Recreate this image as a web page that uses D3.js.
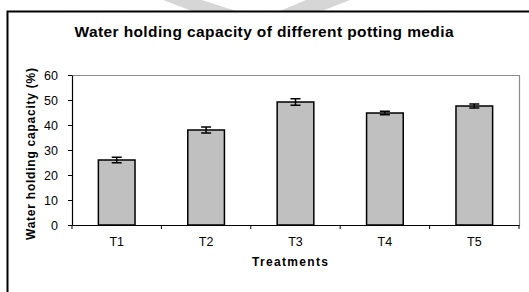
<!DOCTYPE html>
<html><head><meta charset="utf-8">
<script src="https://cdn.jsdelivr.net/npm/d3@7"></script>
<style>html,body{margin:0;padding:0;background:#fff;}svg{display:block;}</style>
</head><body>
<script>
const categories = ["T1", "T2", "T3", "T4", "T5"];
const values = [26.0, 38.0, 49.2, 44.8, 47.6];
const errors = [1.1, 1.2, 1.3, 0.7, 0.8];
const yTicks = [0, 10, 20, 30, 40, 50, 60];
const title = "Water holding capacity of different potting media";
const xTitle = "Treatments";
const yTitle = "Water holding capacity (%)";

const W = 529, H = 292;
const m = {left: 72, right: 10, top: 75, bottom: 67};
const svg = d3.select("body").append("svg").attr("width", W).attr("height", H);

// watermark fragments at top
svg.append("path").attr("d", "M163,0 L202,0 L236,11 L192,11 Z").attr("fill", "#d6d6d6");
svg.append("path").attr("d", "M306,0 L350,0 L322,11 L280,11 Z").attr("fill", "#d6d6d6");

// outer frame
svg.append("rect").attr("x", 7.5).attr("y", 11.5).attr("width", 540).attr("height", 300)
  .attr("fill", "none").attr("stroke", "#000").attr("stroke-width", 2);

const x = d3.scaleBand().domain(categories).range([m.left, W - m.right]).paddingInner(0.59).paddingOuter(0.295);
const xCat = d3.scaleBand().domain(categories).range([m.left, W - m.right]).padding(0);
const y = d3.scaleLinear().domain([0, 60]).range([H - m.bottom, m.top]);

const font = "'Liberation Sans', Arial, sans-serif";

// plot border (top & right, gray)
svg.append("path")
  .attr("d", `M${m.left},${y(60)+0.5} H${W - m.right + 0.5} V${y(0)}`)
  .attr("fill", "none").attr("stroke", "#8c8c8c").attr("stroke-width", 1.2);

// bars
svg.append("g").selectAll("rect").data(categories).join("rect")
  .attr("x", d => x(d)).attr("width", x.bandwidth())
  .attr("y", (d, i) => y(values[i])).attr("height", (d, i) => y(0) - y(values[i]))
  .attr("fill", "#c0c0c0").attr("stroke", "#000").attr("stroke-width", 1.5);

// error bars
const eg = svg.append("g").attr("stroke", "#000").attr("stroke-width", 1.5);
categories.forEach((c, i) => {
  const cx = x(c) + x.bandwidth() / 2;
  const y1 = y(values[i] + errors[i]), y2 = y(values[i] - errors[i]);
  eg.append("line").attr("x1", cx).attr("x2", cx).attr("y1", y1).attr("y2", y2);
  eg.append("line").attr("x1", cx - 5).attr("x2", cx + 5).attr("y1", y1).attr("y2", y1);
  eg.append("line").attr("x1", cx - 5).attr("x2", cx + 5).attr("y1", y2).attr("y2", y2);
});

// y axis
const yAxis = svg.append("g").attr("transform", `translate(${m.left},0)`)
  .call(d3.axisLeft(y).tickValues(yTicks).tickSize(4).tickPadding(10).tickSizeOuter(0));
yAxis.select(".domain").attr("stroke", "#000").attr("stroke-width", 1.2);
yAxis.selectAll(".tick line").attr("stroke", "#000");
yAxis.selectAll("text").attr("font-family", font).attr("font-size", 12.5).attr("fill", "#000");

// x axis
const xAxis = svg.append("g").attr("transform", `translate(0,${y(0)})`)
  .call(d3.axisBottom(xCat).tickSize(0).tickPadding(12));
xAxis.select(".domain").attr("stroke", "#000").attr("stroke-width", 1.2);
xAxis.selectAll("text").attr("font-family", font).attr("font-size", 12.5).attr("fill", "#000");
// boundary ticks
const bounds = categories.map(c => xCat(c)).concat([xCat(categories[categories.length-1]) + xCat.bandwidth()]);
svg.append("g").selectAll("line").data(bounds).join("line")
  .attr("x1", d => d).attr("x2", d => d).attr("y1", y(0)).attr("y2", y(0) + 4)
  .attr("stroke", "#000").attr("stroke-width", 1);

// titles
svg.append("text").attr("x", 264).attr("y", 37).attr("text-anchor", "middle")
  .attr("font-family", font).attr("font-weight", "bold").attr("font-size", 15.5)
  .attr("textLength", 379).attr("lengthAdjust", "spacing").text(title);
svg.append("text").attr("x", 290).attr("y", 266).attr("text-anchor", "middle")
  .attr("font-family", font).attr("font-weight", "bold").attr("font-size", 12)
  .attr("textLength", 76).attr("lengthAdjust", "spacing").text(xTitle);
svg.append("text").attr("transform", "translate(35,154) rotate(-90)").attr("text-anchor", "middle")
  .attr("font-family", font).attr("font-weight", "bold").attr("font-size", 12)
  .attr("textLength", 172).attr("lengthAdjust", "spacing").text(yTitle);
</script>
</body></html>
